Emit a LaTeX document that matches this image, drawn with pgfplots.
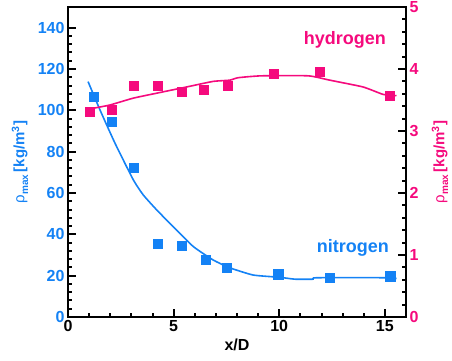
\documentclass[border=0pt]{standalone}
\usepackage{pgfplots}
\pgfplotsset{compat=1.18}
\usepackage{fontspec}
\setmainfont{Liberation Sans}
\definecolor{nblue}{RGB}{20,130,245}
\definecolor{hpink}{RGB}{245,10,125}
\pgfplotsset{
  common/.style={
    scale only axis, width=338pt, height=310pt,
    xmin=0, xmax=16,
    tick align=inside,
    major tick length=8pt, minor tick length=4.5pt,
    tick style={line width=2pt, black},
    axis line style={line width=2.8pt, black, -, line cap=rect},
    /pgf/number format/assume math mode=true,
    ticklabel style={font=\fontsize{16}{18}\selectfont\bfseries},
  }
}
\begin{document}
\begin{tikzpicture}
\begin{axis}[common,
  ymin=0, ymax=150,
  axis x line*=bottom, axis y line*=left,
  xtick={0,5,10,15}, minor x tick num=4,
  ytick={0,20,...,140}, minor y tick num=4,
  yticklabel style={text=nblue},
  xticklabel style={text=black},
  xlabel={x/D},
  xlabel style={at={(axis description cs:0.5,-0.09)}, anchor=center, font=\fontsize{16}{18}\selectfont\bfseries},
  ylabel={{\mdseries ρ}\raisebox{-0.45ex}{\fontsize{10}{10}\selectfont\bfseries max}\,[kg/m\textsuperscript{3}]},
  ylabel style={at={(axis description cs:-0.142,0.5)}, anchor=center, text=nblue, font=\fontsize{15}{17}\selectfont\bfseries},
  clip=false,
]
\addplot[nblue, line width=1.6pt, smooth, tension=0.3] coordinates {
(0.95,113.9)(1.51,100.3)(2.22,84.2)(3.09,66.4)(3.56,59.1)(4.2,51.8)(4.98,43.7)(5.93,34.1)(6.87,27.6)(7.66,23.8)(8.77,20.3)(10.03,19.2)(10.74,18.3)(11.6,18.3)(11.76,19.0)(15.2,19.0)(15.55,18.6)
};
\addplot[only marks, mark=square*, mark size=4.6pt, nblue] coordinates {
(1.23,106.6)(2.08,94.6)(3.1,72.3)(4.24,35.5)(5.38,34.6)(6.53,27.6)(7.5,23.9)(9.95,20.7)(12.38,19.0)(15.25,19.7)
};
\node[text=hpink, font=\fontsize{18}{20}\selectfont\bfseries] at (axis cs:13.11,134) {hydrogen};
\node[text=nblue, font=\fontsize{18}{20}\selectfont\bfseries] at (axis cs:13.49,33.4) {nitrogen};
\end{axis}
\begin{axis}[common,
  ymin=0, ymax=5,
  axis x line*=top, xtick=\empty, axis y line*=right,
  ytick={0,1,...,5}, minor y tick num=4,
  yticklabel style={text=hpink},
  ylabel={{\mdseries ρ}\raisebox{-0.45ex}{\fontsize{10}{10}\selectfont\bfseries max}\,[kg/m\textsuperscript{3}]},
  ylabel style={at={(axis description cs:1.1006,0.5)}, anchor=center, rotate=0, text=hpink, font=\fontsize{15}{17}\selectfont\bfseries},
  clip=false,
]
\addplot[hpink, line width=1.6pt, smooth, tension=0.3] coordinates {
(1.0,3.35)(1.25,3.37)(1.99,3.42)(3.09,3.53)(4.2,3.61)(5.61,3.71)(6.87,3.80)(7.66,3.82)(8.06,3.86)(9.16,3.89)(11.37,3.89)(12.39,3.82)(13.97,3.71)(14.92,3.59)(15.55,3.57)
};
\addplot[only marks, mark=square*, mark size=4.6pt, hpink] coordinates {
(1.02,3.31)(2.08,3.34)(3.1,3.73)(4.26,3.73)(5.39,3.64)(6.43,3.67)(7.55,3.73)(9.73,3.93)(11.9,3.96)(15.23,3.57)
};
\end{axis}
\pgfresetboundingbox
\useasboundingbox (-68pt,-43pt) rectangle (384pt,317pt);
\end{tikzpicture}
\end{document}
